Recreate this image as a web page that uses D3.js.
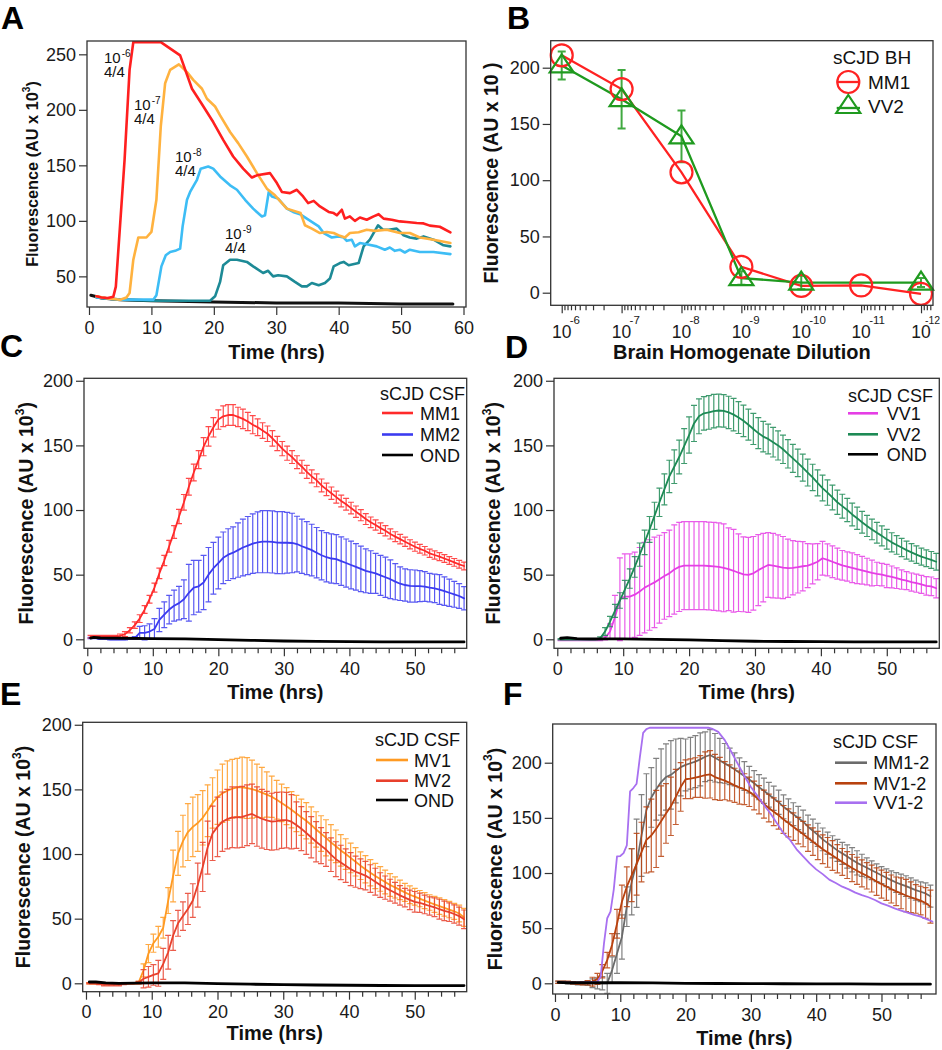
<!DOCTYPE html>
<html><head><meta charset="utf-8">
<script src="https://cdn.jsdelivr.net/npm/d3@7"></script>
<style>body{margin:0;background:#fff;}svg{display:block;background:#fff;}</style>
</head><body>
<svg id="chart" width="942" height="1050"></svg>
<script>
// ---------------- DATA ----------------
// Panel A (time in hrs, fluorescence AU x 10^3)
const aT6 = [1.2,2,3,3.9,4.3,5.7,6.5,7.1,11.5,14.6,16.5,18,19.9,21.5,23.1,24.7,26.1,26.9,29,30.1,30.9,32.2,33.3,34.3,35.1,36,37,38.4,39.2,39.7,40.5,41,41.8,42.6,43.4,44.5,45.6,46.4,47.2,48.5,49.8,50.9,52.5,53.6,54.6,56.2,57.9];
const aV6 = [32,31,30.5,31.7,40.7,155,236,261,261,249,219,206,189,173,158,147,139,141,143,134,126,125,128,122,116,118,113,108,107,105,110,102,104,100,103,101,104,106,102,101,99.5,99,98,97.7,95.7,94.7,89.6];
const aT7 = [1.2,3,5,6,6.5,7.1,7.9,9.2,10,10.8,11.5,12.2,13,14.4,15.7,16.7,18.1,18.9,20.2,21,22.6,23.9,25.3,26.9,28.5,29.8,31.7,33.9,34.6,35.7,37,38.1,39.2,40.2,41,41.8,43.2,44.5,45.8,47.7,49.8,51.4,53,55.2,57.9];
const aV7 = [32,30,29,31,35,65,85,85,90,119,185,224,236,241,234,227,219,210,203,195,180,170,158,143,129,123,111,107,96,93,89,90,89,86.5,85,89,89.7,92,91,92,89,89,85,83,80];
const aT8 = [1.2,5,10.3,10.8,11.6,12.3,13,13.8,14.6,15,15.7,16.2,17,17.3,17.9,19.1,19.9,21,22.6,23.7,25,26.3,27.7,28.2,28.8,29.3,30.3,31.7,32.7,33.8,34.9,36,36.8,37.6,38.9,40,40.8,41.3,42.1,42.6,43.4,44.5,46.1,47.4,48.2,49,49.8,50.6,51.4,53,55.2,57.9];
const aV8 = [31,29,29,33,59,69,72,73,75,95,119,126,134,137,147,149,147,140,132,128,119,111,104,105,126,122,120,111,108,106,102,98,95,89,85,86,85,82,83,77,80,79,77,74,76,73,74,71.5,74,72,72,70];
const aT9 = [1.2,5,10,19.4,20.2,21,21.5,22.6,23.7,25.3,26.3,27.9,28.7,29.5,30.3,31.7,33,34.1,34.9,35.7,36.8,37.8,38.6,39.2,40.2,40.8,41.6,43.2,44,45,46.3,47.1,48,49.3,50.4,51.4,52.5,53.6,55.2,56.8,57.9];
const aV9 = [31,29,28,28,32,45,60,65,65,63,59,53,55,50,51,50,45,41,41,44,42,44,48,59,62,63,60,62,77,83,96,92,92,93,87,85,84,86,83,78,77];
const aTneg = [0.3,2,5,10,20,30,40,50,58.3];
const aVneg = [33,30.5,29,28,27,26,26,25,25];
const aLabels = ["-6","-7","-8","-9"];

// Panel B (dilution vs fluorescence)
const bDil = [1e-6,1e-7,1e-8,1e-9,1e-10,1e-11,1e-12];
const bExp = ["-6","-7","-8","-9","-10","-11","-12"];
const bMM1 = [211,181,107,23,6,6.5,-1];
const bVV2 = [202,172,139,13,9,null,9];
const bVV2err = [12.5,26,23,6,6,null,4];

// Panels C-F: common reading times (hrs)
const T = [0.5,1.25,2,2.75,3.5,4.25,5,5.75,6.5,7.25,8,8.75,9.5,10.25,11,11.75,12.5,13.25,14,14.75,15.5,16.25,17,17.75,18.5,19.25,20,20.75,21.5,22.25,23,23.75,24.5,25.25,26,26.75,27.5,28.25,29,29.75,30.5,31.25,32,32.75,33.5,34.25,35,35.75,36.5,37.25,38,38.75,39.5,40.25,41,41.75,42.5,43.25,44,44.75,45.5,46.25,47,47.75,48.5,49.25,50,50.75,51.5,52.25,53,53.75,54.5,55.25,56,56.75,57.5];

// C
const cMM1 = [2,2,2,2,2,2,2.6,4,7,11,16,23,31,40,51,61,72,83,95,106,118,129,139,149,157,164,170,172.5,173.5,173.5,172,170.5,168.5,166,164,161.5,159,155.5,151.5,147.5,144,141,137,133.5,129.5,126,123,119,116,113,110,107,104.5,101.5,98.7,96,93,90.5,88.4,86,84,81.5,79.4,77.5,75.5,73.5,71.6,70,68.5,66.5,65.2,64,62.5,61,59.5,58,56.7];
const cMM1err = [1,1,1,1,1,1,1.5,2,2,2.5,3,3,3,3.5,4,4,4.5,5,5.5,6,6.5,6.5,7,7,7.5,7.5,7.5,8,8,8,7.5,7.5,7,7,6.5,6,6,6,5.5,5.5,5.5,5,5,5,5,5,5,5,4.8,4.8,4.6,4.6,4.5,4.5,4.4,4.3,4.2,4.1,4,4,4,3.9,3.8,3.7,3.6,3.5,3.5,3.4,3.3,3.2,3.2,3.1,3,3,3,3,3];
const cMM2 = [1,1,0.5,0.5,0,0,0,0,0.5,1,5,5,6,8,15,19,23,26,28,31,36,40,41,44,50,55,59,63,65.5,67,69,71,72.5,74,75,75.5,75.5,75.3,74.8,74.7,74.7,74.5,73.7,72,70.5,69,67,65,63.5,62.5,62,60.5,59,57.5,56,54.5,53,52,51,49.5,48,46.5,44.6,43,42,41.3,41.2,41.2,40.8,40,39.4,38.5,37.3,36,34.8,33.5,31.7];
const cMM2err = [0.5,0.5,0.5,0.5,0.5,0.5,0.5,0.5,0.5,1,5,5.5,6,8,9,10,11,12,13,15,22,21,20,21,21,20,20,20,20,20,21,22,22.5,23,23.5,24,24,24,24,24,23.5,23,21.5,21,20.5,20,19.5,19,19,19,19,18.8,18.6,18.5,18,17.6,17,16.5,15.5,15.5,15.5,15,14,13,12.5,12.5,12.4,12,11.5,11,11,11.5,11,10.5,10,9.5,9];
const cOndT = [0.5,1,2,5,10,15,20,25,30,35,40,45,50,57.5];
const cOndV = [1,1.5,1,0.8,0.5,0.3,-0.3,-0.8,-1.3,-1.6,-1.8,-2,-2,-2];

// D
const dVV1 = [-0.5,-0.5,-0.5,-0.5,-0.5,-0.5,-0.5,-0.5,-0.5,1,6,17,31,33,33,34.5,37,40,42,44,46.5,49,51,54,56,57,57,57,57,57,56.7,56.4,56,55.3,54.2,53,51.5,50.3,49.8,51,53.5,55.5,57.5,57,56.3,55.5,55,55.3,55.8,56.5,57,58.3,60,62.7,61.4,60,58.5,57.2,56.3,55.3,54.3,53.4,52.4,51.3,50.6,50,49,48.2,47.3,46.2,45.4,44.3,43.4,42.5,41.3,41,39.5];
const dVV1err = [0.5,0.5,0.5,0.5,0.5,0.5,0.5,0.5,0.5,1.5,6,17,32,33,33,33,34,35,35,35,34,33.5,33.5,34.5,34.5,34,34,34,34,34,34,34,34,34,32,32,30,29,29,28.5,27.5,26.5,25,25,24.5,24,22.5,21,20,19,17,15.5,14,13,12.4,12.3,12,11.5,11.3,11.5,11.2,10.8,10.3,10,9,8.7,9,8.5,8,7.5,7,7,7,7,7.2,7.2,7.5];
const dVV2 = [0,0,0,0,0,0,0,0,0.8,6,13.7,22,30,38.5,47,56,65.5,75,85,95.5,106,116,126,133.5,141,149.5,158,167,172.5,174.8,175.5,176.5,177,176.7,175.5,173.8,171.5,169,166,162.7,159.5,156.8,155,152.5,150,147,143.5,140,136.5,132.8,129,125.2,121,117,113.5,109.7,106,103,100,96.6,93.6,90.6,87.7,85,82.4,80,77.4,75,73,71,69,67.2,65.5,64,62.7,61.4,60];
const dVV2err = [0.5,0.5,0.5,0.5,0.5,0.5,0.5,0.5,1,3,4,5,6,7,7.5,8,9,9.5,10,10.5,11,12,12.5,13,13,13.5,14,14,13.5,13,13,13,12.7,12.5,12.5,12.5,12.3,12.2,12,12,12,11.8,11.5,11.5,11.3,11,11,10.8,10.6,10.5,10.4,10.2,10,10,9.8,9.6,9.4,9.2,9,8.8,8.6,8.4,8.2,8,8,7.8,7.6,7.4,7.2,7,7,6.8,6.8,6.6,6.5,6.5,6.5];
const dOndT = [0.5,1.5,3,5,10,15,20,25,30,35,40,45,50,57.5];
const dOndV = [0.8,1.3,0.5,0.3,0.3,0,-0.5,-1,-1.5,-1.7,-1.8,-2,-2,-2];

// E
const eMV1 = [0,0,0,-0.5,-0.5,-0.5,-0.5,-0.3,0,0,0.5,10,23,31,36,43,64,83,100.5,110,117,121,124,128,133.5,139.5,144,147,149,150.5,151.5,151.5,151,150.2,149,147.5,146,144.3,142,139.5,137,134.3,131.4,128.5,125.7,122.5,119,115.8,112.5,109,106,102.8,100,97,94,91,88.2,85.5,83,80.7,78.4,76,74.2,72.3,70.3,68.5,67,65.5,64,62.5,61,59.7,58.4,57,55.7,54,51];
const eMV1err = [0.5,0.5,0.5,0.5,0.5,0.5,0.5,0.5,0.5,0.5,1,5,7,7,8,8,10,20,17,20,22,23,22,21,20,19.5,21,22.5,23,22.7,22.5,23.5,23.5,22.5,20.6,19.5,17.5,16,15,14.5,14.3,14,14,14,14,14,13.7,13.8,14,13.7,12.6,12.2,11.8,11.5,11,10.7,10.5,10.2,9.8,9.5,9.2,8.8,8.2,7.5,7,6.8,6.5,6.3,6.2,6,6.2,6.4,6.4,6.3,6.2,6.5,7];
const eMV2 = [0,0,-0.5,-1,-1,-1,-1,-0.5,0,0,0.5,3.5,5,6.5,7.7,15,24,37,46.4,52,57.5,64,76,90,105,116,121,125,127,128.4,128.4,128.8,130,131,129,127.3,126,125,125.5,126.2,126.2,125,122.4,119.6,116.3,113,109.5,106.5,103.5,99.5,96,93.5,91,88.3,86.3,84.8,83.3,81,78.6,76,74,72,70,68,66.3,64.5,63,62.3,61,59.8,58.8,57.3,56,55,53.6,52,49.5];
const eMV2err = [0.5,0.5,0.5,1,1,1,1,0.5,0.5,0.5,1,7,8,8,10,12,13,11.5,10,11,12,13,17,19,20.5,21,23,23,23,23.5,23.6,23.6,23.5,23,23,22.7,22.5,22,22.2,21.8,21.5,21,18,17,16.5,16,15.5,14,13,13,13.5,13.3,13,12.8,12,11.5,11,10.7,10.4,9.5,9,8.5,8,7.5,7.2,7.5,8,7.5,7.2,7,7.3,7.7,7.5,7.2,7,7,7.2];
const eOndT = [0.5,1.5,3,5,10,15,20,25,30,35,40,45,50,57.5];
const eOndV = [1,1,0.3,0,0.3,0.3,-0.3,-0.7,-1,-1.3,-1.5,-1.7,-1.8,-1.8];

// F
const fMM12 = [1,1,0.5,0,-0.5,-0.5,0,0,0,0,0,12,27,42,69.5,92,108.8,134,157,168.5,176,182.5,187,189,192.5,196,198,199.5,201,203,205.4,207,204.5,202,199.4,196.7,194,190.8,188,184.7,181.3,177.8,174.6,171,167.7,164.2,160,156.7,153.3,149.9,146.5,142,138.3,134.6,130.5,127.1,123.8,120.5,117.8,115,112,109.2,107,104.7,102.5,100.2,98,95.7,93.5,91.4,89.7,88.1,86.3,84.5,83,81.5,79];
const fMM12err = [1,1,1,1,1,1,2,4,5,6,9,12,18,20,18,30,40,37,33,27,28,30,30,31,29,26,23.5,23.5,23.6,24,22.6,23,22,20,18,16.5,15,13.5,13,12,11.5,11.4,11.4,11.2,11,11,10.8,10.6,10.4,10.5,10.5,10.5,10.5,10.5,10.3,10,10,10,10,10.5,11,11,10,9,8.5,8,7.7,8,8.5,9,9.2,9.4,9.2,9,9,9.5,10];
const fMV12 = [1,1,1,0.5,0,0,0.5,1.5,4,11,21,35,54,74,87.6,98,108,119,130,134,140,147,154,160.5,169,178,185,185.5,186.5,187.5,188.8,189.5,187,185.3,183.7,181.7,179.5,177.5,176,173.6,170.3,166.4,162.5,159,155.6,152.3,148.6,145.4,142,138.5,135.3,131.7,128.4,125,121.5,118.7,115.9,113,110,107.2,104.5,102,99.7,97.5,95,92.2,90,87.8,85.5,83.4,81.6,79.6,78,76.5,75,72.8,69.5];
const fMV12err = [1,1,1,1,1,1.5,2,4,5,6,7,10,13,15,18,24,28,27,30,33,35,32,27,26.5,25,22,17.5,18,18,19,21,21.5,20.5,19.5,17.3,16.3,15.5,15,14,13.3,13,12.8,12.7,12.6,12.6,12.6,12.6,12.7,12.5,12,11.5,12,12.5,12.8,13,13.5,13.5,12.8,12.2,12.2,12.3,12.3,12.2,12,12.2,12.5,12.7,12.7,12.7,13,14,14.6,14,13,13,14,15];
const fVV12T = [0.5,3,6.5,7,7.5,8,8.5,9,9.5,10,10.5,11,11.5,12,12.5,13,13.5,14,14.5,23.5,24,25,26,27,28,29,30,31,32,33,34,35,36,37,38,39,40,41,42,43,44,45,46,47,48,49,50,51,52,53,54,55,56,57,57.8];
const fVV12V = [1,0.5,1.5,6,36,59,65,85,115,115.4,118,125,174,177,181,205,227,230.5,231.7,231.7,231,228,220.5,210,199,188,178,170,161.6,154,145,136,130,121.5,115,108.8,103.3,99,94,91,87.6,85.2,82.2,80,78,75.5,72.5,70.4,68,65.9,64,62,60.4,58,56];
const fOndT = [0.5,2,5,10,15,20,25,30,35,40,45,50,57.5];
const fOndV = [0.8,0.5,0.5,0.5,0.3,0,-0.2,-0.3,-0.4,-0.5,-0.6,-0.8,-0.8];

// Tick labels / values
const hourMajor = [0,10,20,30,40,50];
const hourMajorA = [0,10,20,30,40,50,60];
const hourMinor = [2,4,6,8,12,14,16,18,22,24,26,28,32,34,36,38,42,44,46,48,52,54,56];
const yTicksA = [50,100,150,200,250];
const yTicksCF = [0,50,100,150,200];
const logMinorMult = [2,3,4,5,6,7,8,9];

// ---------------- DRAWING ----------------
const svg = d3.select("#chart");
const FONT = '"Liberation Sans", Arial, Helvetica, sans-serif';
const AX = "#333";

function panel(id, box, xd, yd, xlog) {
  const x = (xlog ? d3.scaleLog() : d3.scaleLinear()).domain(xd).range([box.l, box.r]);
  const y = d3.scaleLinear().domain(yd).range([box.b, box.t]);
  const g = svg.append("g");
  g.append("clipPath").attr("id", "clip" + id).append("rect")
    .attr("x", box.l).attr("y", box.t).attr("width", box.r - box.l).attr("height", box.b - box.t);
  const plot = g.append("g").attr("clip-path", `url(#clip${id})`);
  return {id, box, x, y, g, plot};
}
function styleAxis(sel, fs) {
  sel.select(".domain").remove();
  sel.attr("font-family", FONT).attr("font-size", fs);
  sel.selectAll(".tick line").attr("stroke", AX).attr("stroke-width", 1.2);
  sel.selectAll(".tick text").attr("fill", "#1a1a1a");
}
function xAxis(p, majors, minors, pad) {
  const gx = p.g.append("g").attr("transform", `translate(0,${p.box.b})`)
    .call(d3.axisBottom(p.x).tickValues(majors).tickSize(8).tickPadding(pad).tickFormat(d3.format("d")));
  styleAxis(gx, 18);
  if (minors) {
    const gm = p.g.append("g").attr("transform", `translate(0,${p.box.b})`)
      .call(d3.axisBottom(p.x).tickValues(minors).tickSize(5).tickFormat(""));
    styleAxis(gm, 18);
  }
}
function yAxis(p, ticks) {
  const gy = p.g.append("g").attr("transform", `translate(${p.box.l},0)`)
    .call(d3.axisLeft(p.y).tickValues(ticks).tickSize(8).tickPadding(3).tickFormat(d3.format("d")));
  styleAxis(gy, 18);
}
function frame(p) {
  p.g.append("rect").attr("x", p.box.l).attr("y", p.box.t)
    .attr("width", p.box.r - p.box.l).attr("height", p.box.b - p.box.t)
    .attr("fill", "none").attr("stroke", AX).attr("stroke-width", 1.3);
}
function yLabel(p, x, size, sup) {
  const cy = (p.box.t + p.box.b) / 2;
  const t = p.g.append("text").attr("transform", `translate(${x},${cy}) rotate(-90)`)
    .attr("text-anchor", "middle").attr("font-family", FONT).attr("font-weight", "bold")
    .attr("font-size", size).attr("fill", "#111");
  t.append("tspan").text("Fluorescence (AU x 10");
  if (sup) {
    t.append("tspan").attr("font-size", size * 0.62).attr("dy", -size * 0.48).text("3");
    t.append("tspan").attr("dy", size * 0.48).text(")");
  } else {
    t.append("tspan").text(" )");
  }
}
function xLabel(p, txt, y, size) {
  p.g.append("text").attr("x", (p.box.l + p.box.r) / 2).attr("y", y)
    .attr("text-anchor", "middle").attr("font-family", FONT).attr("font-weight", "bold")
    .attr("font-size", size).attr("fill", "#111").text(txt);
}
function letter(txt, x, y) {
  svg.append("text").attr("x", x).attr("y", y).attr("font-family", FONT)
    .attr("font-weight", "bold").attr("font-size", 32).attr("fill", "#000").text(txt);
}
function line(p, ts, vs, color, w) {
  const pts = ts.map((t, i) => [t, vs[i]]).filter(d => d[1] != null);
  p.plot.append("path")
    .attr("d", d3.line().x(d => p.x(d[0])).y(d => p.y(d[1]))(pts))
    .attr("fill", "none").attr("stroke", color).attr("stroke-width", w)
    .attr("stroke-linejoin", "round").attr("stroke-linecap", "round");
}
function errBars(p, ts, ms, es, color, cap, w) {
  let d = "";
  ts.forEach((t, i) => {
    if (ms[i] == null) return;
    const x = p.x(t), y1 = p.y(ms[i] - es[i]), y2 = p.y(ms[i] + es[i]);
    d += `M${x},${y1}V${y2}M${x - cap},${y1}H${x + cap}M${x - cap},${y2}H${x + cap}`;
  });
  p.plot.append("path").attr("d", d).attr("fill", "none").attr("stroke", color)
    .attr("stroke-width", w).attr("stroke-opacity", 0.85);
}
function legendCSF(p, hx, hy, lx1, lx2, tx, rows) {
  p.g.append("text").attr("x", hx).attr("y", hy).attr("text-anchor", "end")
    .attr("font-family", FONT).attr("font-size", 18).attr("fill", "#111").text("sCJD CSF");
  rows.forEach(r => {
    p.g.append("line").attr("x1", lx1).attr("x2", lx2).attr("y1", r.y).attr("y2", r.y)
      .attr("stroke", r.c).attr("stroke-width", 2.6);
    p.g.append("text").attr("x", tx).attr("y", r.y + 6.5).attr("font-family", FONT)
      .attr("font-size", 18).attr("fill", "#111").text(r.n);
  });
}

// ---------- Panel A ----------
const pA = panel("A", {l: 87, t: 41, r: 466, b: 307}, [-0.32, 60.4], [22.4, 262]);
line(pA, aTneg, aVneg, "#111", 3);
line(pA, aT9, aV9, "#1d8a96", 2.6);
line(pA, aT8, aV8, "#3dbdf5", 2.6);
line(pA, aT7, aV7, "#ffb23f", 2.6);
line(pA, aT6, aV6, "#ff1f1f", 2.6);
frame(pA);
xAxis(pA, hourMajorA, null, 6.5);
yAxis(pA, yTicksA);
yLabel(pA, 37.5, 16.3, true);
xLabel(pA, "Time (hrs)", 358.7, 20);
const annA = [{x: 104, b: 63, b2: 77}, {x: 134, b: 110, b2: 124}, {x: 175, b: 162, b2: 176}, {x: 225, b: 239, b2: 253}];
annA.forEach((a, i) => {
  const t = pA.g.append("text").attr("x", a.x).attr("y", a.b).attr("font-family", FONT)
    .attr("font-size", 15).attr("fill", "#111");
  t.append("tspan").text("10");
  t.append("tspan").attr("font-size", 10).attr("dy", -6).attr("dx", 1).text(aLabels[i]);
  pA.g.append("text").attr("x", a.x).attr("y", a.b2).attr("font-family", FONT)
    .attr("font-size", 15).attr("fill", "#111").text("4/4");
});

// ---------- Panel B ----------
const pB = panel("B", {l: 550.7, t: 40.7, r: 933, b: 305.3}, [Math.pow(10, -5.816), Math.pow(10, -12.2)], [-11.2, 224], true);
const mmPts = bDil.map((d, i) => [d, bMM1[i]]);
const vvPts = bDil.map((d, i) => [d, bVV2[i]]).filter(d => d[1] != null);
const lnB = d3.line().x(d => pB.x(d[0])).y(d => pB.y(d[1]));
pB.plot.append("path").attr("d", lnB(mmPts)).attr("fill", "none").attr("stroke", "#ff2222").attr("stroke-width", 2.3);
mmPts.forEach(d => {
  pB.g.append("circle").attr("cx", pB.x(d[0])).attr("cy", pB.y(d[1])).attr("r", 11)
    .attr("fill", "none").attr("stroke", "#ff2222").attr("stroke-width", 2.2);
});
pB.plot.append("path").attr("d", lnB(vvPts)).attr("fill", "none").attr("stroke", "#1f9a1f").attr("stroke-width", 2.3);
errBars(pB, bDil, bVV2, bVV2err.map(e => e == null ? 0 : e), "#1f9a1f", 4, 2);
const tri = "M0,-11L12,7L-12,7Z";
vvPts.forEach(d => {
  pB.g.append("path").attr("d", tri).attr("transform", `translate(${pB.x(d[0])},${pB.y(d[1])})`)
    .attr("fill", "none").attr("stroke", "#1f9a1f").attr("stroke-width", 2.2);
});
frame(pB);
yAxis(pB, yTicksCF);
const bMinor = [];
[7, 8, 9, 10, 11, 12, 13].forEach(k => logMinorMult.forEach(n => {
  const v = n * Math.pow(10, -k);
  if (v < Math.pow(10, -5.816) && v > Math.pow(10, -12.2)) bMinor.push(v);
}));
const gbx = pB.g.append("g").attr("transform", `translate(0,${pB.box.b})`)
  .call(d3.axisBottom(pB.x).tickValues(bDil).tickSize(8).tickFormat(""));
styleAxis(gbx, 18);
const gbm = pB.g.append("g").attr("transform", `translate(0,${pB.box.b})`)
  .call(d3.axisBottom(pB.x).tickValues(bMinor).tickSize(5).tickFormat(""));
styleAxis(gbm, 18);
bDil.forEach((d, i) => {
  const x = pB.x(d);
  const last = i === bDil.length - 1;
  pB.g.append("text").attr("x", x).attr("y", pB.box.b + 33).attr("text-anchor", "middle")
    .attr("font-family", FONT).attr("font-size", 17.5).attr("fill", "#1a1a1a").text("10");
  pB.g.append("text").attr("x", last ? x + 4 : x + 8).attr("y", pB.box.b + 19).attr("font-family", FONT)
    .attr("font-size", last ? 10.5 : 11.5).attr("fill", "#1a1a1a").text(bExp[i]);
});
yLabel(pB, 498, 19.5, false);
xLabel(pB, "Brain Homogenate Dilution", 358.7, 20);
pB.g.append("text").attr("x", 833).attr("y", 64).attr("font-family", FONT).attr("font-size", 19)
  .attr("fill", "#111").text("sCJD BH");
pB.g.append("line").attr("x1", 836.7).attr("x2", 860).attr("y1", 82).attr("y2", 82).attr("stroke", "#ff2222").attr("stroke-width", 2.3);
pB.g.append("circle").attr("cx", 848.3).attr("cy", 82).attr("r", 11).attr("fill", "none").attr("stroke", "#ff2222").attr("stroke-width", 2.2);
pB.g.append("text").attr("x", 868).attr("y", 88.5).attr("font-family", FONT).attr("font-size", 19).attr("fill", "#111").text("MM1");
pB.g.append("line").attr("x1", 836.7).attr("x2", 860).attr("y1", 108).attr("y2", 108).attr("stroke", "#1f9a1f").attr("stroke-width", 2.3);
pB.g.append("path").attr("d", tri).attr("transform", "translate(848.3,106)").attr("fill", "none").attr("stroke", "#1f9a1f").attr("stroke-width", 2.2);
pB.g.append("text").attr("x", 868).attr("y", 112.5).attr("font-family", FONT).attr("font-size", 19).attr("fill", "#111").text("VV2");

// ---------- Panel C ----------
const pC = panel("C", {l: 84, t: 378.3, r: 466.7, b: 648.3}, [-0.5, 57.9], [-6.96, 201.9]);
errBars(pC, T, cMM2, cMM2err, "#3b3bf0", 3, 1.2);
line(pC, T, cMM2, "#3b3bf0", 1.8);
errBars(pC, T, cMM1, cMM1err, "#ff2a2a", 3, 1.2);
line(pC, T, cMM1, "#ff2a2a", 1.8);
line(pC, cOndT, cOndV, "#000", 2.8);
frame(pC);
xAxis(pC, hourMajor, hourMinor, 6);
yAxis(pC, yTicksCF);
yLabel(pC, 33, 19.5, true);
xLabel(pC, "Time (hrs)", 699, 20);
legendCSF(pC, 465, 399.5, 382, 413, 420, [{y: 413, c: "#ff2a2a", n: "MM1"}, {y: 434.5, c: "#3b3bf0", n: "MM2"}, {y: 455, c: "#000", n: "OND"}]);

// ---------- Panel D ----------
const pD = panel("D", {l: 554, t: 378.3, r: 939.3, b: 648.3}, [-0.5, 57.97], [-6.97, 201.9]);
errBars(pD, T, dVV1, dVV1err, "#e53ee5", 3, 1.2);
line(pD, T, dVV1, "#e53ee5", 1.8);
errBars(pD, T, dVV2, dVV2err, "#1d8a55", 3, 1.2);
line(pD, T, dVV2, "#1d8a55", 1.8);
line(pD, dOndT, dOndV, "#000", 2.8);
frame(pD);
xAxis(pD, hourMajor, hourMinor, 6);
yAxis(pD, yTicksCF);
yLabel(pD, 500, 19.5, true);
xLabel(pD, "Time (hrs)", 699, 20);
legendCSF(pD, 933, 401.5, 848, 878, 886.7, [{y: 413.3, c: "#e53ee5", n: "VV1"}, {y: 434.3, c: "#1d8a55", n: "VV2"}, {y: 454.3, c: "#000", n: "OND"}]);

// ---------- Panel E ----------
const pE = panel("E", {l: 82.7, t: 722.3, r: 466.7, b: 991.7}, [-0.5, 57.9], [-6.5, 201.9]);
errBars(pE, T, eMV1, eMV1err, "#ff9a22", 3, 1.2);
line(pE, T, eMV1, "#ff9a22", 1.8);
errBars(pE, T, eMV2, eMV2err, "#e8402c", 3, 1.2);
line(pE, T, eMV2, "#e8402c", 1.8);
line(pE, eOndT, eOndV, "#000", 2.8);
frame(pE);
xAxis(pE, hourMajor, hourMinor, 6);
yAxis(pE, yTicksCF);
yLabel(pE, 30, 19.5, true);
xLabel(pE, "Time (hrs)", 1040, 20);
legendCSF(pE, 460, 745.5, 376, 408, 414, [{y: 760, c: "#ff9a22", n: "MV1"}, {y: 780.7, c: "#e8402c", n: "MV2"}, {y: 800, c: "#000", n: "OND"}]);

// ---------- Panel F ----------
const pF = panel("F", {l: 552.7, t: 724, r: 936, b: 994}, [-0.35, 58.35], [-9.7, 235.1]);
errBars(pF, T, fMM12, fMM12err, "#6b6b6b", 3, 1.2);
line(pF, T, fMM12, "#6b6b6b", 1.8);
errBars(pF, T, fMV12, fMV12err, "#b8420f", 3, 1.2);
line(pF, T, fMV12, "#b8420f", 1.8);
line(pF, fVV12T, fVV12V, "#a870f0", 1.8);
line(pF, fOndT, fOndV, "#000", 2.8);
frame(pF);
xAxis(pF, hourMajor, hourMinor, 6);
yAxis(pF, yTicksCF);
yLabel(pF, 501.7, 19.5, true);
xLabel(pF, "Time (hrs)", 1045, 20);
legendCSF(pF, 918, 748, 835, 867, 873.3, [{y: 762.7, c: "#6b6b6b", n: "MM1-2"}, {y: 783.3, c: "#b8420f", n: "MV1-2"}, {y: 802.7, c: "#a870f0", n: "VV1-2"}]);

// ---------- Panel letters ----------
letter("A", 1, 29);
letter("B", 507, 29);
letter("C", 0, 357);
letter("D", 505, 358);
letter("E", 0, 705);
letter("F", 503, 705);
</script>
</body></html>
